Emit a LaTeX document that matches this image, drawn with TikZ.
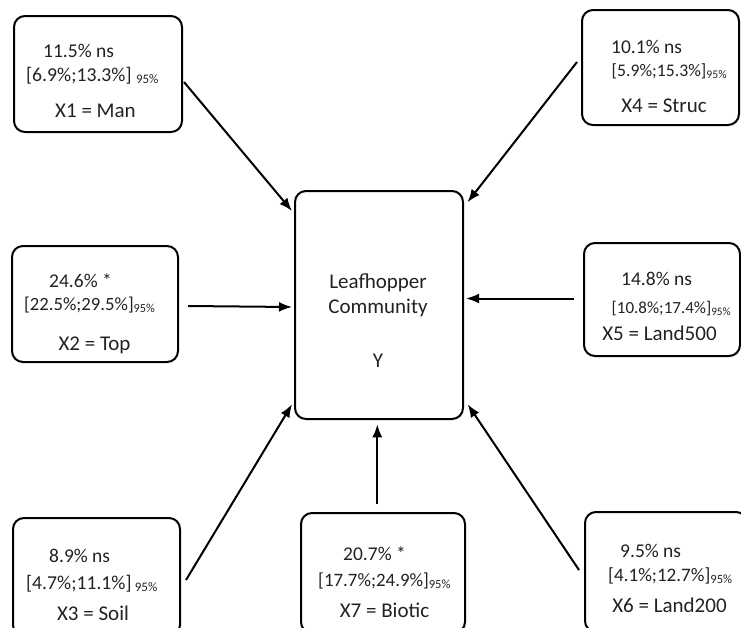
\documentclass[tikz,border=0pt]{standalone}
\usepackage{fontspec}
\setmainfont{Carlito}
\usetikzlibrary{arrows.meta,calc}
\definecolor{txt}{HTML}{222222}
\tikzset{
  box/.style={draw=black, line width=2pt, rounded corners=11pt, rectangle, inner sep=0pt},
  lineA/.style={inner sep=0pt, anchor=base west, text=txt, font=\fontsize{19.5}{23}\selectfont},
  lineB/.style={inner sep=0pt, anchor=base west, text=txt, font=\fontsize{#1}{23}\selectfont},
  lineC/.style={inner sep=0pt, anchor=base, text=txt, font=\fontsize{21}{25}\selectfont},
  arr/.style={draw=black, line width=2pt, -{Latex[length=13pt,width=10pt]}}
}
\newcommand{\ci}[2][13]{\raisebox{-2pt}{\fontsize{#1}{15}\selectfont #2}}
\begin{document}
\begin{tikzpicture}[x=1pt,y=-1pt]
\useasboundingbox (0,0) rectangle (741,627);
\clip (0,0) rectangle (741,627);
% boxes
\node[box, minimum width=168pt, minimum height=116pt] (x1) at (98,74) {};
\node[box, minimum width=157pt, minimum height=115pt] (x4) at (660.5,67.5) {};
\node[box, minimum width=166pt, minimum height=116pt] (x2) at (95,304) {};
\node[box, minimum width=156pt, minimum height=113pt] (x5) at (662,299.5) {};
\node[box, minimum width=167pt, minimum height=118pt] (x3) at (96.5,577) {};
\node[box, minimum width=164pt, minimum height=120pt] (x7) at (383,573) {};
\node[box, minimum width=162pt, minimum height=120pt] (x6) at (666,572) {};
\node[box, minimum width=168pt, minimum height=228pt] (y) at (379,305) {};
% texts
\node[lineA] (x1a) at (43,57) {11.5\% ns};
\node[lineB=19.7] (x1b) at (26,81) {[6.9\%;13.3\%] \ci{95\%}};
\node[lineC] (x1c) at (95.5,117) {X1 = Man};
\node[lineA] (x4a) at (611,53) {10.1\% ns};
\node[lineB=17.7] (x4b) at (611.5,76) {[5.9\%;15.3\%]\ci[11.7]{95\%}};
\node[lineC] (x4c) at (664,112) {X4 = Struc};
\node[lineA] (x2a) at (49,287) {24.6\% *};
\node[lineB=18.7] (x2b) at (24,310) {[22.5\%;29.5\%]\ci[12.3]{95\%}};
\node[lineC] (x2c) at (94.5,350) {X2 = Top};
\node[lineA] (x5a) at (621,285) {14.8\% ns};
\node[lineB=17] (x5b) at (611.5,313) {[10.8\%;17.4\%]\ci[11.3]{95\%}};
\node[lineC] (x5c) at (659.5,340) {X5 = Land500};
\node[lineA] (x3a) at (49,562) {8.9\% ns};
\node[lineB=19.7] (x3b) at (26,589) {[4.7\%;11.1\%]\,\ci{95\%}};
\node[lineC] (x3c) at (93,620) {X3 = Soil};
\node[lineA] (x7a) at (343,560) {20.7\% *};
\node[lineB=18.9] (x7b) at (318,586) {[17.7\%;24.9\%]\ci[12.5]{95\%}};
\node[lineC] (x7c) at (384.5,617) {X7 = Biotic};
\node[lineA] (x6a) at (620,557) {9.5\% ns};
\node[lineB=19.1] (x6b) at (608,581) {[4.1\%;12.7\%]\ci[12.6]{95\%}};
\node[lineC] (x6c) at (669.5,612) {X6 = Land200};
\node[lineC] (ya) at (378,288) {Leafhopper};
\node[lineC] (yb) at (378,313) {Community};
\node[lineC] (yc) at (378,367) {Y};
% arrows
\draw[arr] ($(x1.east)+(1,8)$) -- ($(y.north west)+(-2,21)$);
\draw[arr] ($(x4.west)+(-4,-5.5)$) -- ($(y.north east)+(3.5,12.3)$);
\draw[arr] ($(x2.east)+(9,2)$) -- ($(y.west)+(-2,2)$);
\draw[arr] ($(x5.west)+(-9,-1)$) -- ($(y.east)+(2,-6.5)$);
\draw[arr] ($(x3.east)+(5,3)$) -- ($(y.south west)+(-2,-15.7)$);
\draw[arr] ($(x6.west)+(-5,-2)$) -- ($(y.south east)+(3.7,-15.7)$);
\draw[arr] ($(x7.north)+(-5.7,-8)$) -- ($(y.south)+(-1.7,4.3)$);
\end{tikzpicture}
\end{document}
